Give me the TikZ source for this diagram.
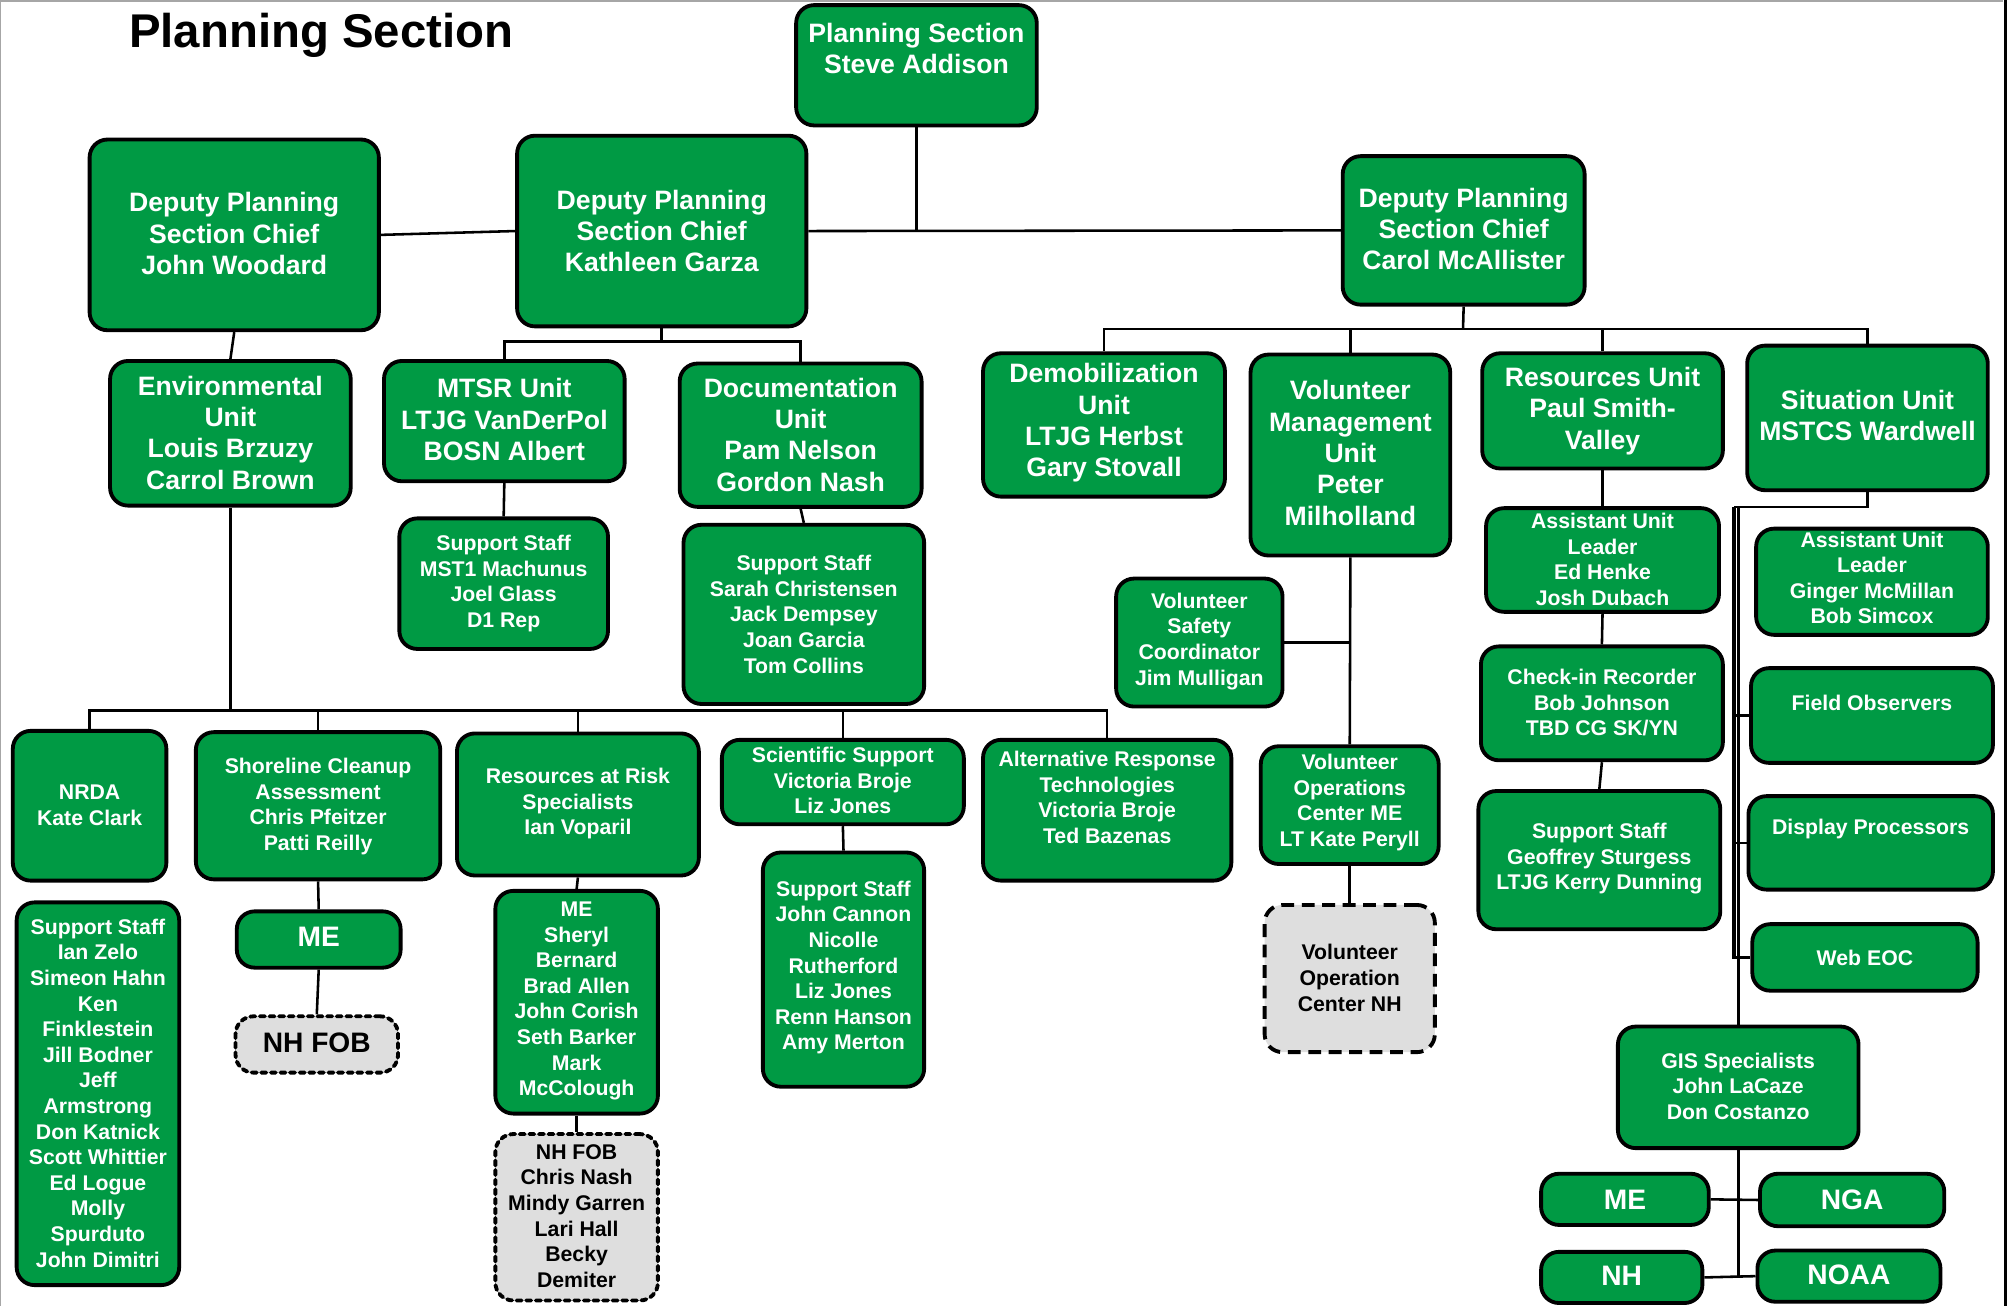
\documentclass[tikz,border=0pt]{standalone}
\usepackage{fontspec}
\setmainfont{Liberation Sans}
\usetikzlibrary{calc}
\definecolor{gfill}{RGB}{0,154,68}
\definecolor{lgray}{RGB}{222,222,222}
\tikzset{
  gbox/.style={draw=black, line width=3pt, fill=gfill, rounded corners=14pt, inner sep=0pt},
  dotbox/.style={draw=black, line width=3pt, fill=lgray, rounded corners=14pt, inner sep=0pt, dash pattern=on 4pt off 3.5pt, line cap=round},
  dashbox/.style={draw=black, line width=3pt, fill=lgray, rounded corners=14pt, inner sep=0pt, dash pattern=on 10pt off 6pt},
  big/.style={text=white, align=center, font=\bfseries\fontsize{20.8}{24.5}\selectfont, inner sep=0pt},
  small/.style={text=white, align=center, font=\bfseries\fontsize{16.6}{20}\selectfont, inner sep=0pt},
  large/.style={text=white, align=center, font=\bfseries\fontsize{22}{26}\selectfont, inner sep=0pt},
  blk/.style={text=black},
  conn/.style={draw=black, line width=2pt},
}
% \obox[style]{name}{x1}{y1}{x2}{y2}{text-y}{textstyle}{text}
\newcommand\obox[9][gbox]{%
  \node[#1, minimum width={(#5-#3)*1pt}, minimum height={(#6-#4)*1pt}] (#2) at ({(#3+#5)/2},{(#4+#6)/2}) {};
  \node[#8] (#2t) at ({(#3+#5)/2},#7) {#9};
}
\begin{document}
\begin{tikzpicture}[x=1pt,y=-1pt]
\useasboundingbox (0,0) rectangle (1568,1020);
% page frame
\draw[gray!70, line width=1pt] (0.5,1020) -- (0.5,0.8) -- (1565,0.8);
\draw[black, line width=2pt] (1567,0) -- (1567,1020);

\node[font=\bfseries\fontsize{37}{44}\selectfont, inner sep=0pt] (title) at (251,28) {Planning Section};

% level 0-1
\obox{ps}{622}{4}{810}{98}{38}{big}{Planning Section\\Steve Addison}
\obox{djw}{70}{109}{296}{258}{182.5}{big}{Deputy Planning\\Section Chief\\John Woodard}
\obox{dkg}{404}{106}{630}{255}{180.5}{big}{Deputy Planning\\Section Chief\\Kathleen Garza}
\obox{dcm}{1049}{122}{1238}{238}{179}{big}{Deputy Planning\\Section Chief\\Carol McAllister}

% units
\obox{env}{86}{282}{274}{395}{338}{big}{Environmental\\Unit\\Louis Brzuzy\\Carrol Brown}
\obox{mtsr}{300}{282}{488}{376}{328}{big}{MTSR Unit\\LTJG VanDerPol\\BOSN Albert}
\obox{doc}{531}{284}{720}{396}{339.5}{big}{Documentation\\Unit\\Pam Nelson\\Gordon Nash}
\obox{demob}{768}{276}{957}{388}{330.5}{big}{Demobilization\\Unit\\LTJG Herbst\\Gary Stovall}
\obox{vmu}{977}{277}{1133}{434}{354}{big}{Volunteer\\Management\\Unit\\Peter\\Milholland}
\obox{res}{1158}{276}{1346}{366}{321}{big}{Resources Unit\\Paul Smith-\\Valley}
\obox{sit}{1365}{270}{1553}{383}{324.5}{big}{Situation Unit\\MSTCS Wardwell}

% staff
\obox{ssa}{312}{405}{475}{507}{456}{small}{Support Staff\\MST1 Machunus\\Joel Glass\\D1 Rep}
\obox{ssb}{534}{410}{722}{550}{480}{small}{Support Staff\\Sarah Christensen\\Jack Dempsey\\Joan Garcia\\Tom Collins}
\obox{vsc}{872}{452}{1002}{552}{501}{small}{Volunteer\\Safety\\Coordinator\\Jim Mulligan}
\obox{aula}{1161}{397}{1343}{478}{437}{small}{Assistant Unit\\Leader\\Ed Henke\\Josh Dubach}
\obox{aulb}{1372}{413}{1553}{496}{451.5}{small}{Assistant Unit\\Leader\\Ginger McMillan\\Bob Simcox}
\obox{cir}{1157}{505}{1346}{594}{549}{small}{Check-in Recorder\\Bob Johnson\\TBD CG SK/YN}
\obox{fo}{1368}{522}{1557}{596}{549}{small}{Field Observers}
\obox{ssc}{1155}{618}{1344}{726}{671}{small}{Support Staff\\Geoffrey Sturgess\\LTJG Kerry Dunning}
\obox{dp}{1366}{622}{1557}{695}{648}{small}{Display Processors}
\obox{web}{1369}{722}{1545}{774}{748}{small}{Web EOC}
\obox{gis}{1264}{802}{1452}{897}{848.5}{small}{GIS Specialists\\John LaCaze\\Don Costanzo}
\obox{meb}{1204}{917}{1335}{957}{937}{large}{ME}
\obox{nga}{1375}{917}{1519}{958}{937}{large}{NGA}
\obox{nh}{1204}{978}{1330}{1018}{997}{large}{NH}
\obox{noaa}{1373}{977}{1516}{1017}{996}{large}{NOAA}

% environmental row
\obox{nrda}{10}{571}{130}{688}{629}{small}{NRDA\\Kate Clark}
\obox{sca}{153}{572}{344}{687}{630}{small}{Shoreline Cleanup\\Assessment\\Chris Pfeitzer\\Patti Reilly}
\obox{rar}{357}{573}{546}{684}{628}{small}{Resources at Risk\\Specialists\\Ian Voparil}
\obox{sci}{564}{578}{753}{644}{610}{small}{Scientific Support\\Victoria Broje\\Liz Jones}
\obox{art}{768}{578}{962}{688}{623}{small}{Alternative Response\\Technologies\\Victoria Broje\\Ted Bazenas}
\obox{voc}{985}{583}{1124}{675}{627}{small}{Volunteer\\Operations\\Center ME\\LT Kate Peryll}

\obox{ssd}{13}{705}{140}{1004}{854}{small}{Support Staff\\Ian Zelo\\Simeon Hahn\\Ken\\Finklestein\\Jill Bodner\\Jeff\\Armstrong\\Don Katnick\\Scott Whittier\\Ed Logue\\Molly\\Spurduto\\John Dimitri}
\obox{mea}{185}{712}{313}{756}{732}{large}{ME}
\obox[dotbox]{nhfa}{184}{794}{311}{838}{815}{large,blk}{NH FOB}
\obox{mes}{387}{696}{514}{870}{782}{small}{ME\\Sheryl\\Bernard\\Brad Allen\\John Corish\\Seth Barker\\Mark\\McColough}
\obox[dotbox]{nhfb}{387}{886}{514}{1016}{950}{small,blk}{NH FOB\\Chris Nash\\Mindy Garren\\Lari Hall\\Becky\\Demiter}
\obox{sse}{596}{666}{722}{849}{756}{small}{Support Staff\\John Cannon\\Nicolle\\Rutherford\\Liz Jones\\Renn Hanson\\Amy Merton}
\obox[dashbox]{vocnh}{988}{707}{1121}{822}{764}{small,blk}{Volunteer\\Operation\\Center NH}

% connectors
\begin{scope}[on background layer/.style={}]
\end{scope}
\coordinate (kgbar) at (517,267);
\coordinate (cmbar) at (1143,257);
\coordinate (envbar) at (180,555);
\coordinate (sitbar) at (1355,396);

\draw[conn] (ps.south) -- (ps.south |- dkg.east);
\draw[conn] (dkg.east) -- (dcm.west);
\draw[conn] (djw.east) -- (dkg.west);
\draw[conn] (djw.south) -- (env.north);

\draw[conn] (dkg.south) -- (kgbar);
\draw[conn] (mtsr.north) |- (kgbar) -| (doc.north);
\draw[conn] (mtsr.south) -- (ssa.north);
\draw[conn] (doc.south) -- (ssb.north);

\draw[conn] (dcm.south) -- (cmbar);
\draw[conn] (demob.north) |- (cmbar) -| (sit.north);
\draw[conn] (vmu.north) -- (vmu.north |- cmbar);
\draw[conn] (res.north) -- (res.north |- cmbar);

\draw[conn] (vmu.south) -- (voc.north);
\draw[conn] (vsc.east) -- (vsc.east -| vmu.south);
\draw[conn] (voc.south) -- (vocnh.north);

\draw[conn] (env.south) -- (envbar);
\draw[conn] (nrda.north) |- (envbar) -| (art.north);
\draw[conn] (sca.north) -- (sca.north |- envbar);
\draw[conn] (rar.north) -- (rar.north |- envbar);
\draw[conn] (sci.north) -- (sci.north |- envbar);

\draw[conn] (sca.south) -- (mea.north);
\draw[conn] (mea.south) -- (nhfa.north);
\draw[conn] (rar.south) -- (mes.north);
\draw[conn] (mes.south) -- (nhfb.north);
\draw[conn] (sci.south) -- (sse.north);

\draw[conn] (res.south) -- (aula.north);
\draw[conn] (aula.south) -- (cir.north);
\draw[conn] (cir.south) -- (ssc.north);

\draw[conn] (sit.south) |- (sitbar);
\draw[conn, line width=3pt] (sitbar) |- (web.west);
\draw[conn] (fo.west) -- (fo.west -| sitbar);
\draw[conn] (dp.west) -- (dp.west -| sitbar);
\draw[conn] (gis.north) -- (gis.north |- sitbar);
\draw[conn] (gis.south) -- (gis.south |- nh.east);
\draw[conn] (meb.east) -- (nga.west);
\draw[conn] (nh.east) -- (noaa.west);
\end{tikzpicture}
\end{document}
